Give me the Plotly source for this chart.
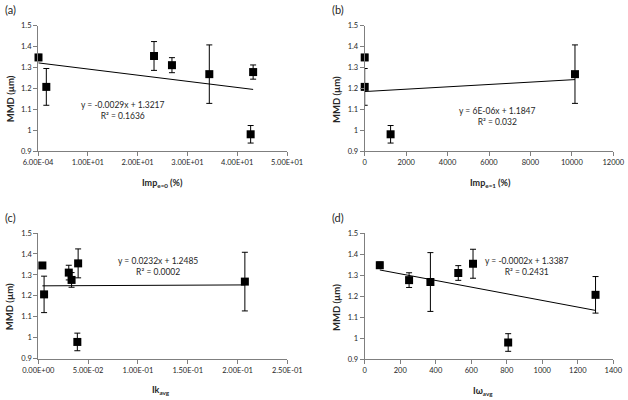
import numpy as np
import plotly.graph_objects as go

# ---------------- data ----------------
mmd_a = [1.348, 1.207, 1.355, 1.311, 1.268, 1.278, 0.980]
err_a = [0.015, 0.088, 0.069, 0.036, 0.140, 0.034, 0.042]
imp_e0 = [0.1, 1.67, 23.3, 26.9, 34.4, 43.2, 42.7]

imp_e1 = [0, 0, 1250, 10150]
mmd_b = [1.348, 1.207, 0.980, 1.268]
err_b = [0.015, 0.088, 0.042, 0.140]

ik_avg = [0.0041, 0.0058, 0.0306, 0.0334, 0.0400, 0.0392, 0.2074]
mmd_c = [1.345, 1.207, 1.311, 1.276, 1.355, 0.980, 1.268]
err_c = [0.012, 0.087, 0.035, 0.035, 0.069, 0.042, 0.140]

iw_avg = [85, 250, 370, 527, 610, 808, 1300]
mmd_d = [1.348, 1.277, 1.268, 1.311, 1.355, 0.980, 1.207]
err_d = [0.015, 0.035, 0.140, 0.035, 0.069, 0.042, 0.087]

y_ticks = [0.9, 1.0, 1.1, 1.2, 1.3, 1.4, 1.5]
y_ticktext = ["0.9", "1", "1.1", "1.2", "1.3", "1.4", "1.5"]

xa_ticks = [0.0006, 10, 20, 30, 40, 50]
xa_text = ["6.00E-04", "1.00E+01", "2.00E+01", "3.00E+01", "4.00E+01", "5.00E+01"]
xb_ticks = [0, 2000, 4000, 6000, 8000, 10000, 12000]
xb_text = ["0", "2000", "4000", "6000", "8000", "10000", "12000"]
xc_ticks = [0, 0.05, 0.10, 0.15, 0.20, 0.25]
xc_text = ["0.00E+00", "5.00E-02", "1.00E-01", "1.50E-01", "2.00E-01", "2.50E-01"]
xd_ticks = [0, 200, 400, 600, 800, 1000, 1200, 1400]
xd_text = ["0", "200", "400", "600", "800", "1000", "1200", "1400"]

eq_texts = ["y = -0.0029x + 1.3217<br>R² = 0.1636",
            "y = 6E-06x + 1.1847<br>R² = 0.032",
            "y = 0.0232x + 1.2485<br>R² = 0.0002",
            "y = -0.0002x + 1.3387<br>R² = 0.2431"]
panel_labels = ["(a)", "(b)", "(c)", "(d)"]
x_titles = ["<b>Imp<sub>e=0</sub> (%)</b>", "<b>Imp<sub>e=1</sub> (%)</b>",
            "<b>Ik<sub>avg</sub></b>", "<b>Iω<sub>avg</sub></b>"]
y_title = "<b>MMD (µm)</b>"

FONT = "Lato"
TXT = "#262626"
W, H = 628, 400

panels = [
    dict(x=imp_e0, y=mmd_a, e=err_a, xr=[0, 50], tv=xa_ticks, tt=xa_text,
         px=(38, 287), py=(25.7, 151), eq=(123, 110), xt=162),
    dict(x=imp_e1, y=mmd_b, e=err_b, xr=[0, 12000], tv=xb_ticks, tt=xb_text,
         px=(364.7, 613.3), py=(25.7, 151), eq=(497, 116), xt=490),
    dict(x=ik_avg, y=mmd_c, e=err_c, xr=[0, 0.25], tv=xc_ticks, tt=xc_text,
         px=(38.3, 287.3), py=(233, 358.7), eq=(158, 266), xt=161),
    dict(x=iw_avg, y=mmd_d, e=err_d, xr=[0, 1400], tv=xd_ticks, tt=xd_text,
         px=(364.7, 613.3), py=(233.3, 359.3), eq=(527, 266), xt=483),
]

fig = go.Figure()
annotations = []
for i, p in enumerate(panels):
    n = "" if i == 0 else str(i + 1)
    xa, ya = "x" + n, "y" + n
    # trend line (least squares, like the spreadsheet trendline)
    slope, icpt = np.polyfit(p["x"], p["y"], 1)
    xs = np.array([min(p["x"]), max(p["x"])])
    fig.add_trace(go.Scatter(x=xs, y=slope * xs + icpt, mode="lines",
                             line=dict(color="black", width=1),
                             xaxis=xa, yaxis=ya, showlegend=False, hoverinfo="skip"))
    fig.add_trace(go.Scatter(x=p["x"], y=p["y"], mode="markers",
                             marker=dict(symbol="square", size=8, color="black"),
                             error_y=dict(type="data", array=p["e"], color="black",
                                          thickness=1, width=3),
                             cliponaxis=False,
                             xaxis=xa, yaxis=ya, showlegend=False))
    dom_x = [p["px"][0] / W, p["px"][1] / W]
    dom_y = [1 - p["py"][1] / H, 1 - p["py"][0] / H]
    common = dict(showgrid=False, zeroline=False, showline=True, linecolor="#7f7f7f",
                  linewidth=1, ticks="outside", ticklen=4, tickcolor="#7f7f7f",
                  automargin=False,
                  tickfont=dict(family=FONT, size=7.5, color=TXT))
    fig.layout["xaxis" + n] = dict(domain=dom_x, range=p["xr"], tickvals=p["tv"],
                                   ticktext=p["tt"], anchor=ya, **common)
    fig.layout["yaxis" + n] = dict(domain=dom_y, range=[0.9, 1.5], tickvals=y_ticks,
                                   ticktext=y_ticktext, anchor=xa, **common)
    # equation text
    annotations.append(dict(x=p["eq"][0] / W, y=1 - p["eq"][1] / H, xref="paper",
                            yref="paper", text=eq_texts[i], showarrow=False,
                            xanchor="center", yanchor="middle",
                            font=dict(family=FONT, size=8.5, color=TXT), align="center"))
    # panel label
    annotations.append(dict(x=(p["px"][0] - 35) / W, y=1 - (p["py"][0] - 16) / H,
                            xref="paper", yref="paper", text=panel_labels[i],
                            showarrow=False, xanchor="left", yanchor="middle",
                            font=dict(family=FONT, size=11, color=TXT)))
    # y title
    annotations.append(dict(x=(p["px"][0] - 28) / W,
                            y=1 - ((p["py"][0] + p["py"][1]) / 2 + 11) / H,
                            xref="paper", yref="paper", text=y_title,
                            textangle=-90, showarrow=False,
                            xanchor="center", yanchor="middle",
                            font=dict(family=FONT, size=9.5, color=TXT)))
    # x title
    annotations.append(dict(x=p["xt"] / W, y=1 - (p["py"][1] + 31.5) / H,
                            xref="paper", yref="paper", text=x_titles[i],
                            showarrow=False, xanchor="center", yanchor="middle",
                            font=dict(family=FONT, size=9, color=TXT)))

fig.update_layout(width=W, height=H,
                  margin=dict(l=0, r=0, t=0, b=0, pad=0, autoexpand=False),
                  plot_bgcolor="white", paper_bgcolor="white",
                  annotations=annotations)
fig.write_html("out.html", config={"displayModeBar": False},
               post_script="document.body.style.margin='0px';document.body.style.overflow='hidden';")
